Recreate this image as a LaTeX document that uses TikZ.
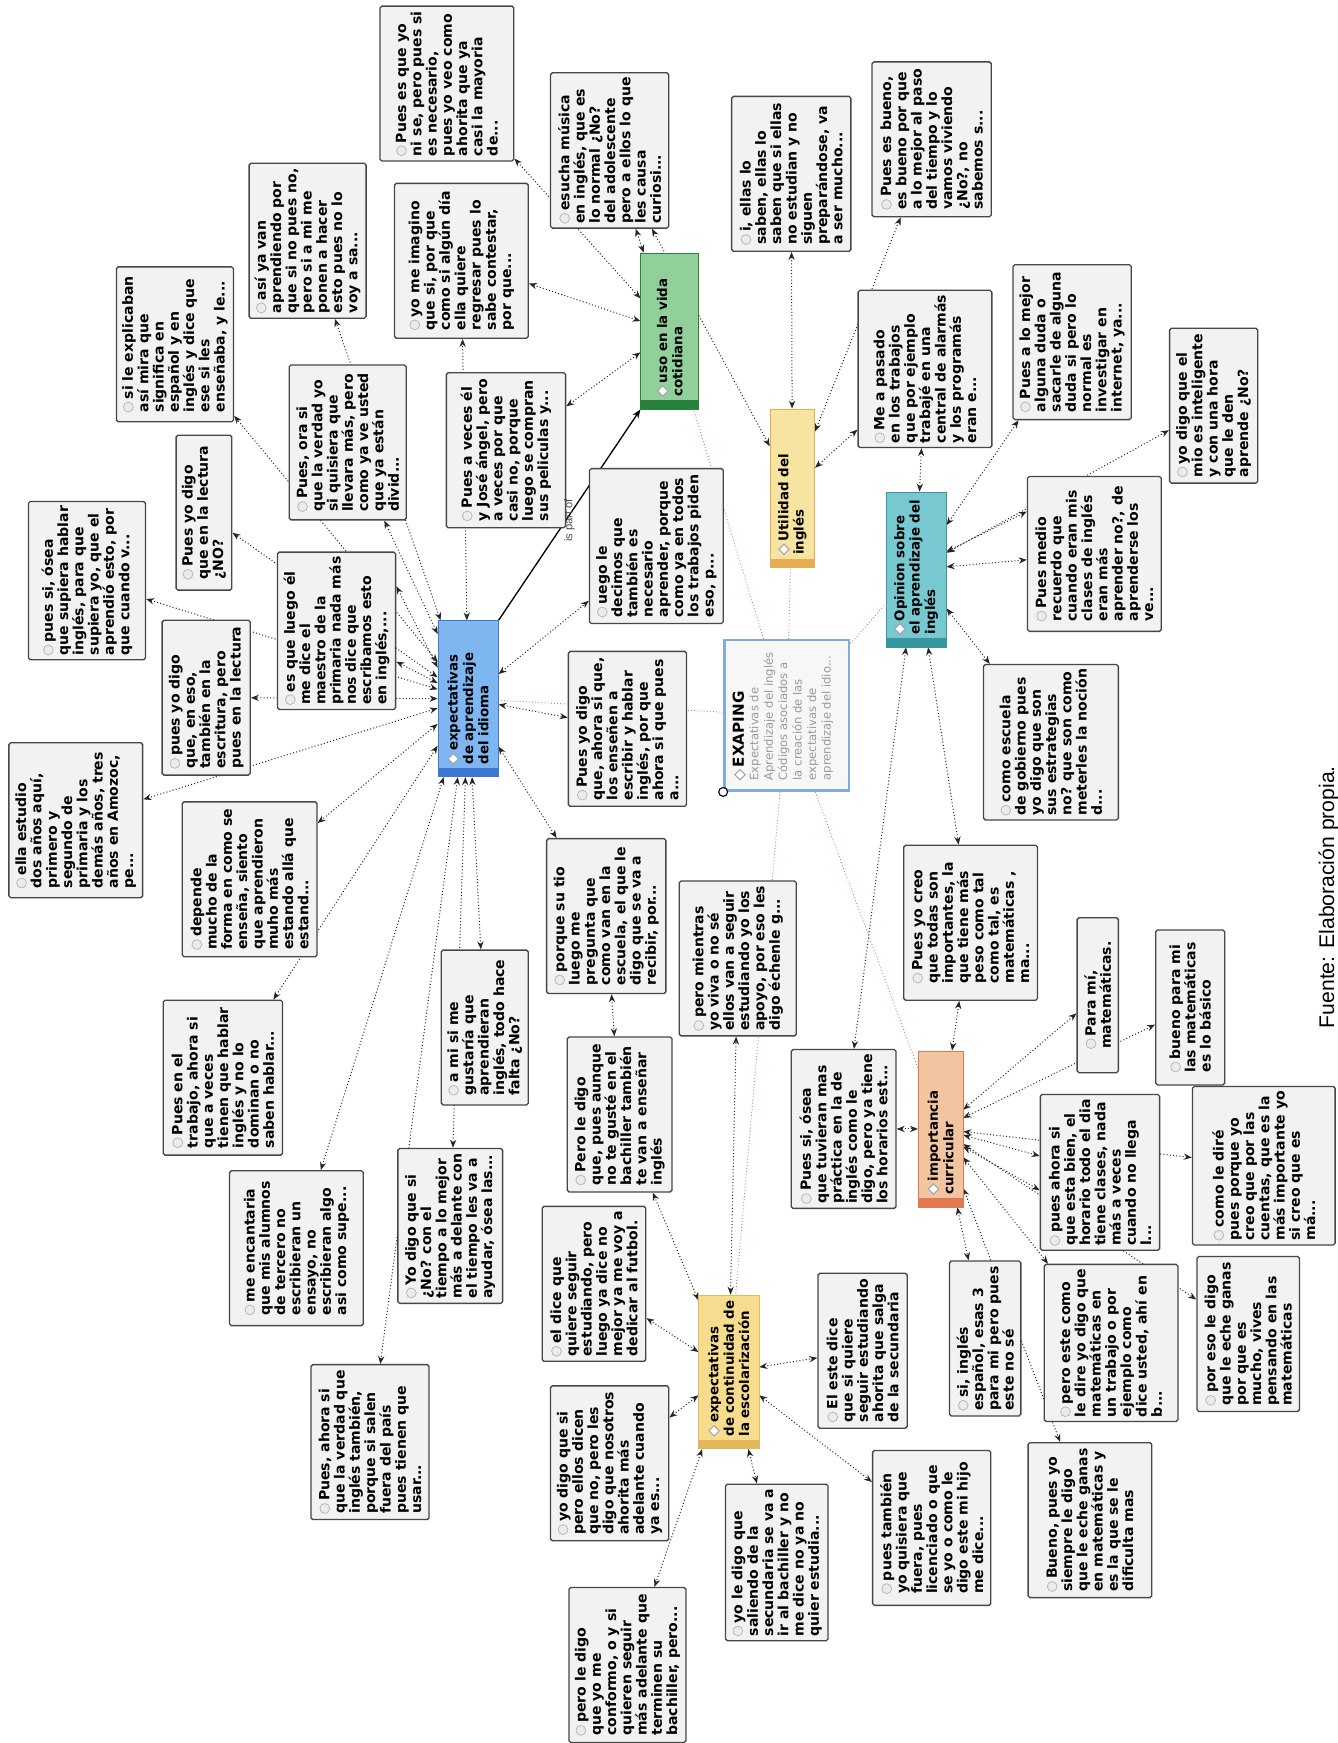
\documentclass[tikz,border=0pt]{standalone}
\usepackage{fontspec}
\setmainfont{DejaVu Sans}
\newfontfamily\arialf{Liberation Sans}
\usetikzlibrary{arrows.meta,backgrounds}
\definecolor{cgreen}{RGB}{145,208,155}
\definecolor{sgreen}{RGB}{40,130,60}
\definecolor{cblue}{RGB}{125,182,240}
\definecolor{sblue}{RGB}{60,120,210}
\definecolor{cyel}{RGB}{246,228,160}
\definecolor{syel}{RGB}{232,172,82}
\definecolor{cteal}{RGB}{120,200,210}
\definecolor{steal}{RGB}{55,150,160}
\definecolor{corng}{RGB}{242,196,160}
\definecolor{sorng}{RGB}{225,120,80}
\definecolor{cyel2}{RGB}{246,220,140}
\definecolor{syel2}{RGB}{228,184,90}
\definecolor{redl}{RGB}{225,110,110}
\definecolor{xborder}{RGB}{130,170,220}
\newcommand\qicon{\tikz[baseline=-0.6ex]\draw[black!28,fill=black!8,line width=0.35pt] (0,0) circle (2.2pt);}
\newcommand\cicon{\tikz[baseline=-0.6ex]\draw[black!35,fill=white,line width=0.45pt] (0,2.3pt)--(2.3pt,0)--(0,-2.3pt)--(-2.3pt,0)--cycle;}
\newcommand\qb[5]{\node[qbox,minimum width=139*0.5pt,minimum height=#4*0.5pt] (#1) at (#2,#3) {\qicon\,#5};}
\newcommand\cn[8]{\node[cbox,fill=#6,draw=#7,minimum width=#4*0.5pt,minimum height=#5*0.5pt] (#1) at (#2,#3) {};
\fill[#7] ([xshift=0.2pt,yshift=0.2pt]#1.south west) rectangle ([xshift=-0.2pt,yshift=4pt]#1.south east);
\node[rotate=90,anchor=west,align=left,inner sep=0pt,font=\bfseries\fontsize{6}{6.9}\selectfont] (#1t) at ([yshift=5.5pt]#1.south) {\cicon\,#8};}
\begin{document}
\begin{tikzpicture}[x=0.5pt,y=-0.5pt,font=\bfseries\fontsize{6.3}{6.85}\selectfont,
 qbox/.style={draw=black!72,line width=0.6pt,fill=black!5,rounded corners=0.8pt,align=left,inner xsep=2pt,inner ysep=2.5pt,rotate=90},
 cbox/.style={line width=0.3pt,inner sep=0pt},
 dl/.style={densely dotted,line width=0.45pt,black!85,{Stealth[length=3.6pt,width=2.8pt]}-{Stealth[length=3.6pt,width=2.8pt]}},
 rl/.style={densely dotted,line width=0.4pt,redl}]
\useasboundingbox (0,0) rectangle (1200,1564);
% code nodes
\cn{G}{601}{297}{52}{140}{cgreen}{sgreen}{uso en la vida\\cotidiana}
\cn{U}{711}{438}{40}{142}{cyel}{syel}{Utilidad del\\inglés}
\cn{O}{822}{511}{54}{139}{cteal}{steal}{Opinion sobre\\el aprendizaje del\\inglés}
\cn{B}{420}{627}{54}{140}{cblue}{sblue}{expectativas\\de aprendizaje\\del idioma}
\cn{I}{844}{1013}{40}{140}{corng}{sorng}{importancia\\curricular}
\cn{E}{654}{1231}{54}{138}{cyel2}{syel2}{expectativas\\de continuidad de\\la escolarización}
% EXAPING
\node[draw=xborder,line width=1.1pt,fill=black!3,minimum width=112*0.5pt,minimum height=135*0.5pt,inner sep=0pt] (X) at (706,642) {};
\node[rotate=90,anchor=north west,align=left,inner sep=0pt,font=\mdseries\fontsize{5.2}{6.5}\selectfont,text=black!40] (Xt) at ([xshift=4pt,yshift=5pt]X.south west) {\cicon\,\textcolor{black}{\bfseries\fontsize{6.8}{6.5}\selectfont EXAPING}\\Expectativas de\\Aprendizaje del inglés\\Códigos asociados a\\la creación de las\\expectativas de\\aprendizaje del idio...};
\draw[black,fill=white,line width=0.5pt] (X.south west) circle (2pt);
% quote boxes
\qb{A1}{401}{75}{120}{Pues es que yo\\ni se, pero pues si\\es necesario,\\pues yo veo como\\ahorita que  ya\\casi la mayoria\\de...}
\qb{A2}{547}{135}{106}{esucha música\\en inglés, que es\\lo normal ¿No?\\del adolescente\\pero a ellos lo que\\les causa\\curiosi...}
\qb{A3}{414}{234}{120}{yo me imagino\\que si, por que\\como si algún día\\ella quiere\\regresar pues lo\\sabe contestar,\\por que...}
\qb{A4}{276}{216}{105}{así ya van\\aprendiendo por\\que si no pues no,\\pero si a mi me\\ponen a hacer\\esto pues no lo\\voy a sa...}
\qb{A5}{157}{309}{105}{si le explicaban\\así mira que\\significa en\\español y en\\inglés  y dice que\\ese si les\\enseñaba, y le...}
\qb{A6}{312}{397}{105}{Pues, ora si\\que la verdad yo\\si quisiera que\\llevara más, pero\\como ya  ve usted\\que ya están\\divid...}
\qb{A7}{454}{404}{107}{Pues a veces él\\y José ángel, pero\\a veces por que\\casi no, porque\\luego se compran\\sus peliculas y...}
\qb{A8}{183}{460}{50}{Pues yo digo\\que en la lectura\\¿NO?}
\qb{A9}{78}{521}{105}{pues si, ósea\\que supiera hablar\\inglés, para que\\supiera yo, que el\\aprendió esto, por\\que cuando v...}
\qb{A10}{302}{566}{106}{es que  luego él\\me dice el\\maestro de la\\primaria nada más\\nos dice que\\escribamos esto\\en inglés,...}
\qb{A11}{185}{626}{79}{pues yo digo\\que, en eso,\\también en la\\escritura, pero\\pues en la lectura}
\qb{A12}{68}{736}{120}{ella estudio\\dos años aquí,\\primero y\\segundo de\\primaria y los\\demás años, tres\\años en Amozoc,\\pe...}
\qb{A13}{589}{490}{120}{uego le\\decimos que\\también es\\necesario\\aprender, porque\\como ya en todos\\los trabajos piden\\eso, p...}
\qb{A14}{563}{654}{106}{Pues yo digo\\que, ahora si que,\\los enseñen a\\escribir y hablar\\inglés, por que\\ahora si que  pues\\a...}
\qb{A15}{710}{156}{107}{i, ellas lo\\saben, ellas lo\\saben  que si ellas\\no estudian y no\\siguen\\preparándose, va\\a ser mucho...}
\qb{A16}{836}{125}{107}{Pues es bueno,\\es bueno por que\\a lo mejor al paso\\del tiempo y lo\\vamos viviendo\\¿No?, no\\sabemos s...}
\qb{A17}{830}{331}{120}{Me a pasado\\en los trabajos\\que por ejemplo\\trabajé en una\\central de alarmás\\y los programás\\eran e...}
\qb{A18}{962}{307}{106}{Pues a lo mejor\\alguna duda o\\sacarle de alguna\\duda si pero lo\\normal es\\investigar en\\internet, ya...}
\qb{A19}{1089}{364}{79}{yo digo que el\\mio es inteligente\\y con una hora\\que le den\\aprende ¿No?}
\qb{A20}{982}{497}{120}{Pues medio\\recuerdo que\\cuando eran mis\\clases de inglés\\eran más\\aprender no?, de\\aprenderse los\\ve...}
\qb{A21}{943}{666}{121}{como escuela\\de gobierno pues\\yo digo que son\\sus estrategias\\no? que son como\\meterles la noción\\d...}
\qb{A22}{224}{789}{121}{depende\\mucho de la\\forma en como se\\enseña, siento\\que aprendieron\\muho más\\estando allá que\\estand...}
\qb{A23}{544}{822}{107}{porque su tio\\luego me\\pregunta que\\como van en la\\escuela, el que le\\digo que se va a\\recibir, por...}
\qb{A24}{200}{967}{107}{Pues en el\\trabajo, ahora si\\que a veces\\tienen que hablar\\inglés y no lo\\dominan o no\\saben hablar...}
\qb{A25}{435}{922}{78}{a mi si me\\gustaría que\\aprendieran\\inglés, todo hace\\falta ¿No?}
\qb{A26}{556}{1000}{94}{Pero le digo\\que, pues aunque\\no te gusté en el\\bachiller también\\te van a enseñar\\inglés}
\qb{A27}{662}{860}{105}{pero mientras\\yo viva o no sé\\ellos van a seguir\\estudiando yo los\\apoyo, por eso les\\digo échenle g...}
\qb{A28}{871}{828}{120}{Pues yo creo\\que todas son\\importantes, la\\que tiene más\\peso como tal\\como tal, es\\matemáticas ,\\ma...}
\qb{A29}{985}{893}{37}{Para mí,\\matemáticas.}
\qb{A30}{1068}{904}{62}{bueno para mi\\las matemáticas\\es lo básico}
\qb{A31}{757}{1013}{94}{Pues si, ósea\\que tuvieran mas\\práctica en la de\\inglés como le\\digo, pero ya tiene\\los horarios est...}
\qb{A32}{987}{1052}{107}{pues ahora si\\que esta bien, el\\horario todo el dia\\tiene clases, nada\\más a veces\\cuando no llega\\l...}
\qb{A33}{1134}{1046}{128}{como le diré\\pues porque  yo\\creo que por las\\cuentas, que es la\\más importante yo\\si creo que es\\má...}
\qb{A34}{266}{1120}{120}{me encantaria\\que mis alumnos\\de tercero no\\escribieran un\\ensayo, no\\escribieran algo\\asi como supe...}
\qb{A35}{404}{1100}{94}{Yo digo que si\\¿No? con el\\tiempo a lo mejor\\más a delante con\\el tiempo  les va a\\ayudar, ósea las...}
\qb{A36}{533}{1152}{93}{el dice que\\quiere seguir\\estudiando, pero\\luego ya dice no\\mejor ya me voy a\\dedicar al futbol.}
\qb{A37}{774}{1212}{80}{El este  dice\\que si quiere\\seguir estudiando\\ahorita que salga\\de la secundaria}
\qb{A38}{884}{1201}{64}{si, inglés\\español, esas 3\\para mi pero pues\\este no sé}
\qb{A39}{997}{1205}{120}{pero este como\\le dire yo digo que\\matemáticas en\\un trabajo o por\\ejemplo como\\dice usted, ahí en\\b...}
\qb{A40}{1120}{1197}{92}{por eso le digo\\que le eche ganas\\por que es\\mucho, vives\\pensando en las\\matemáticas}
\qb{A41}{332}{1294}{106}{Pues, ahora si\\que la verdad que\\inglés también,\\porque si salen\\fuera del país\\pues tienen que\\usar...}
\qb{A42}{547}{1313}{106}{yo digo que si\\pero ellos dicen\\que no, pero les\\digo que nosotros\\ahorita más\\adelante cuando\\ya es...}
\qb{A43}{697}{1402}{92}{yo le digo que\\saliendo de la\\secundaria se va a\\ir al bachiller y no\\me dice no ya no\\quier estudia...}
\qb{A44}{836}{1371}{106}{pues también\\yo quisiera que\\fuera, pues\\licenciado o que\\se yo o como le\\digo este mi hijo\\me dice...}
\qb{A45}{978}{1364}{111}{Bueno, pues yo\\siempre le digo\\que le eche ganas\\en matemáticas y\\es la que se le\\dificulta mas}
\qb{A46}{563}{1494}{105}{pero le digo\\que yo me\\conformo, o y si\\quieren seguir\\más adelante que\\terminen su\\bachiller, pero...}
% labels
\node[rotate=90,font=\arialf\fontsize{5}{5.5}\selectfont,text=black!70,inner sep=0pt] (ipo) at (511,467) {is part of};
\node[rotate=90,font=\arialf\fontsize{9.5}{11}\selectfont,inner sep=0pt] (fuente) at (1192,805) {Fuente: Elaboración propia.};
% connectors
\begin{scope}[on background layer]
\fill[white] (0,0) rectangle (1200,1564);
\foreach \a/\b in {A1/G,A2/G,A3/G,A7/G,A2/U,A15/U,A16/U,A17/U,A17/O,A18/O,A19/O,A20/O,A21/O,O/A28,O/A31,
 A28/I,A31/I,A29/I,A30/I,A32/I,A33/I,I/A38,I/A39,I/A40,I/A45,
 E/A26,E/A27,E/A36,E/A37,E/A42,E/A43,E/A44,E/A46,
 B/A3,B/A4,B/A5,B/A6,B/A8,B/A9,B/A10,B/A11,B/A12,B/A13,B/A14,B/A22,B/A23,B/A24,B/A25,B/A34,B/A35,B/A41,A23/A26}
 \draw[dl] (\a) -- (\b);
\draw[dl] ([yshift=19pt]A20.north) -- ([yshift=8pt]O.east);
\draw[dl] ([yshift=-8pt]A32.north) -- ([yshift=-8pt]I.east);
\draw[dl] ([yshift=20pt]A10.south) -- ([yshift=14pt]B.west);
\draw[line width=0.6pt,-{Stealth[length=4pt,width=3pt]}] (B.north east) -- (G.south west);
\foreach \b in {B,G,U,O,E,I} \draw[rl] (X) -- (\b);
\end{scope}
\end{tikzpicture}
\end{document}
